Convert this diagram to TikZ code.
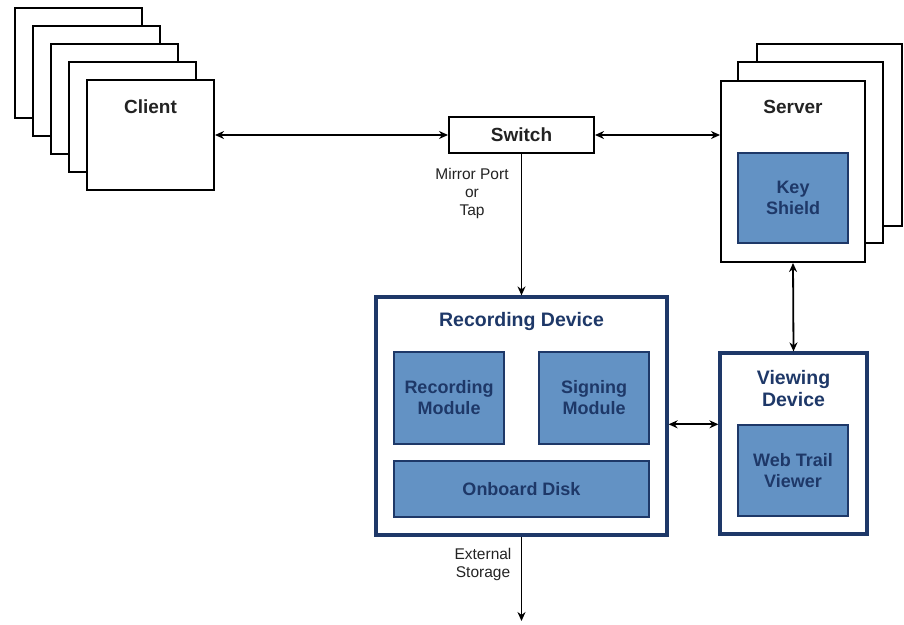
\documentclass[tikz,border=0pt]{standalone}
\usepackage{fontspec}
\setmainfont{Liberation Sans}
\usetikzlibrary{arrows.meta,calc}
\definecolor{navy}{RGB}{30,56,104}
\definecolor{modfill}{RGB}{99,146,196}
\definecolor{txtgray}{RGB}{35,35,35}
\begin{document}
\begin{tikzpicture}[x=1pt,y=-1pt,
  plainbox/.style={draw=black,line width=2pt,fill=white,inner sep=0pt},
  navybox/.style={draw=navy,line width=3.2pt,fill=white,inner sep=0pt},
  modbox/.style={draw=navy,line width=1.4pt,fill=modfill,inner sep=0pt,
     text=navy,font=\fontsize{18}{21}\selectfont\bfseries,align=center},
  blacktitle/.style={font=\fontsize{19}{22}\selectfont\bfseries,text=txtgray,inner sep=0pt},
  navytitle/.style={font=\fontsize{19.5}{22}\selectfont\bfseries,text=navy,inner sep=0pt,align=center},
  smalltext/.style={font=\fontsize{15.5}{18}\selectfont,text=txtgray,inner sep=0pt,align=center},
  conn/.style={line width=1.8pt,black},
  tip/.style={-{Stealth[length=9pt,width=8pt]}},
  tips/.style={{Stealth[length=9pt,width=8pt]}-{Stealth[length=9pt,width=8pt]}}
]
\useasboundingbox (0,0) rectangle (904,624);
% Client stack
\node[plainbox,minimum width=127pt,minimum height=110pt] (c4) at (78.5,63) {};
\node[plainbox,minimum width=127pt,minimum height=110pt] (c3) at (96.5,81) {};
\node[plainbox,minimum width=127pt,minimum height=110pt] (c2) at (114.5,99) {};
\node[plainbox,minimum width=127pt,minimum height=110pt] (c1) at (132.5,117) {};
\node[plainbox,minimum width=127pt,minimum height=110pt] (client) at (150.5,135) {};
\node[blacktitle] (clientlbl) at (150.5,107) {Client};
% Switch
\node[plainbox,minimum width=145pt,minimum height=36pt,blacktitle] (switch) at (521.5,135) {Switch};
% Server stack
\node[plainbox,minimum width=145pt,minimum height=182pt] (s3) at (829.5,135) {};
\node[plainbox,minimum width=145pt,minimum height=181pt] (s2) at (810.5,152.5) {};
\node[plainbox,minimum width=144pt,minimum height=181pt] (server) at (793,171.5) {};
\node[blacktitle] (serverlbl) at (793,107) {Server};
\node[modbox,minimum width=110pt,minimum height=90pt] (key) at (793,198) {Key\\Shield};
% Recording device
\node[navybox,minimum width=291pt,minimum height=238pt] (rec) at (521.5,416) {};
\node[navytitle] (reclbl) at (521.5,321) {Recording Device};
\node[modbox,minimum width=110pt,minimum height=92pt] (recmod) at (449,398) {Recording\\Module};
\node[modbox,minimum width=110pt,minimum height=92pt] (signmod) at (594,398) {Signing\\Module};
\node[modbox,minimum width=255pt,minimum height=56pt] (disk) at (521.5,489) {Onboard Disk};
% Viewing device
\node[navybox,minimum width=147pt,minimum height=181pt] (view) at (793.5,443.5) {};
\node[navytitle] (viewlbl) at (793.5,389) {Viewing\\Device};
\node[modbox,minimum width=110pt,minimum height=91pt] (wtv) at (793,470.5) {Web Trail\\Viewer};
% Labels
\node[smalltext] (mirror) at (472,193) {Mirror Port\\or\\Tap};
\node[smalltext] (extlbl) at (483,564) {External\\Storage};
\coordinate (ext) at (521.5,621);
% Connectors
\draw[conn,tips] (client.east |- switch.west) -- (switch.west);
\draw[conn,tips] (switch.east) -- (switch.east -| server.west);
\draw[conn,tip] (switch.south) -- (rec.north);
\draw[conn,tips] (server.south) -- (view.north);
\draw[conn,tips] (rec.east |- wtv.north) -- (view.west |- wtv.north);
\draw[conn,tip] (rec.south) -- (ext);
\end{tikzpicture}
\end{document}
